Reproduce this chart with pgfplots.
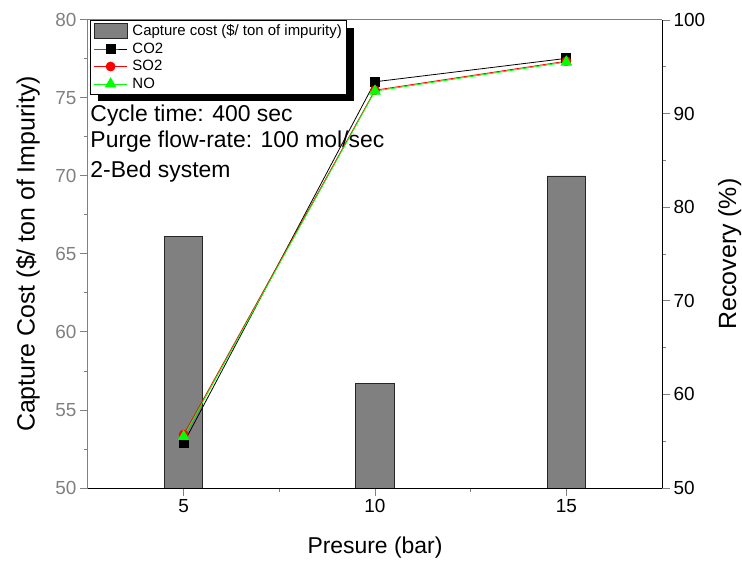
\documentclass[border=0pt]{standalone}
\usepackage{pgfplots}
\pgfplotsset{compat=1.18}
\usepackage{fontspec}
\setmainfont{Liberation Sans}
\definecolor{bargray}{RGB}{128,128,128}
\definecolor{axgray}{RGB}{128,128,128}
\definecolor{nored}{RGB}{255,0,0}
\definecolor{nogreen}{RGB}{0,255,0}
\begin{document}
\begin{tikzpicture}
\pgfplotsset{
  common/.style={
    scale only axis, width=574bp, height=468bp,
    xmin=2.5, xmax=17.5,
    tick align=outside,
    major tick length=8bp, minor tick length=4bp,
    /pgf/number format/assume math mode=true,
    tick label style={font=\fontsize{19}{19}\selectfont},
    label style={font=\fontsize{23}{23}\selectfont},
    axis line style={-, line width=1bp},
    tick style={line width=1bp},
  }
}
\begin{axis}[common,
  axis x line=none, axis y line*=left,
  ymin=50, ymax=80, ytick={50,55,...,80}, minor y tick num=1,
  y axis line style={axgray},
  tick style={axgray},
  yticklabel style={text=axgray},
  ylabel={Capture Cost (\$/ ton of Impurity)},
  ylabel style={at={(axis description cs:-0.1045,0.5)}, anchor=center, font=\fontsize{25}{25}\selectfont},
]
\addplot[ybar, bar width=1, fill=bargray, draw=black!85, line width=0.8bp] coordinates {(5,66.1) (10,56.7) (15,70.0)};
\draw[axgray, line width=1bp] (rel axis cs:0,1) -- (rel axis cs:1,1);
\fill[black] (rel axis cs:0.0179,0.9829) rectangle (rel axis cs:0.4639,0.8265);
\node[anchor=base west, inner sep=0pt, font=\fontsize{23}{23}\selectfont] at (rel axis cs:0.004,0.784) {Cycle time: 400 sec};
\node[anchor=base west, inner sep=0pt, font=\fontsize{23}{23}\selectfont] at (rel axis cs:0.004,0.7265) {Purge flow-rate: 100 mol/sec};
\node[anchor=base west, inner sep=0pt, font=\fontsize{23}{23}\selectfont] at (rel axis cs:0.004,0.6645) {2-Bed system};
\coordinate (SW) at (rel axis cs:0,0);
\coordinate (NE) at (rel axis cs:1,1);
\end{axis}
\begin{axis}[common,
  axis x line*=bottom, axis y line*=right,
  ymin=50, ymax=100, ytick={50,60,...,100}, minor y tick num=1,
  xtick={5,10,15}, minor x tick num=1,
  xlabel={Presure (bar)},
  ylabel={Recovery (\%)},
  xlabel style={at={(axis description cs:0.5,-0.128)}, anchor=center},
  ylabel style={at={(axis description cs:1.118,0.5)}, anchor=center, rotate=0, font=\fontsize{25}{25}\selectfont},
  legend cell align=left,
  legend style={at={(0.004,1)}, anchor=north west, draw=black, line width=0.8bp, fill=white,
    font=\fontsize{15}{18}\selectfont, row sep=1.6bp,
    inner xsep=3bp, inner ysep=2.5bp},
  legend image code/.code={\draw[mark repeat=2,mark phase=2,#1] plot coordinates {(0bp,0bp) (16.5bp,0bp) (33bp,0bp)};\path (36bp,0bp);},
]
\addlegendimage{legend image code/.code={\draw[fill=bargray, draw=black!85, line width=0.8bp] (0bp,-7.5bp) rectangle (33bp,7.5bp);\path (36bp,0bp);}}
\addlegendentry{Capture cost (\$/ ton of impurity)}
\addplot[black, line width=0.8bp, mark=square*, mark size=4.5bp, mark options={fill=black}] coordinates {(5,54.8) (10,93.4) (15,95.9)};
\addlegendentry{CO2}
\addplot[nored, line width=0.8bp, mark=*, mark size=4.5bp, mark options={fill=nored}] coordinates {(5,55.7) (10,92.5) (15,95.6)};
\addlegendentry{SO2}
\addplot[nogreen, line width=0.8bp, mark=triangle*, mark size=6bp, mark options={fill=nogreen}] coordinates {(5,55.5) (10,92.4) (15,95.5)};
\addlegendentry{NO}
\end{axis}
\pgfresetboundingbox
\useasboundingbox ([xshift=-88bp,yshift=-73bp]SW) rectangle ([xshift=80bp,yshift=20bp]NE);
\end{tikzpicture}
\end{document}
